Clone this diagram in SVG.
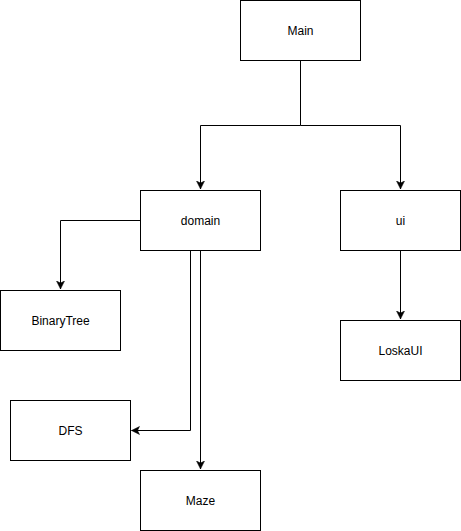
<svg xmlns="http://www.w3.org/2000/svg" width="461" height="531" viewBox="0 0 461 531">
<style>
.box{fill:#fff;stroke:#000;stroke-width:1}
.lbl{font-family:"Liberation Sans",Arial,sans-serif;font-size:12px;fill:#000;text-anchor:middle;dominant-baseline:central}
.edge{fill:none;stroke:#000;stroke-width:1}
</style>
<defs>
<marker id="arr" markerWidth="10" markerHeight="10" refX="8" refY="4" orient="auto" markerUnits="userSpaceOnUse" viewBox="0 0 10 8">
<path d="M0,0 L8,4 L0,8 L2,4 Z" fill="#000" stroke="#000" stroke-width="0.5"/>
</marker>
</defs>
<rect width="461" height="531" fill="#fff"/>
<g id="connectors">
<path class="edge" d="M300.5,60.5 V125.5 H200.5 V189" marker-end="url(#arr)"/>
<path class="edge" d="M300.5,125.5 H400.5 V189" marker-end="url(#arr)"/>
<path class="edge" d="M140.5,220.5 H60.5 V289" marker-end="url(#arr)"/>
<path class="edge" d="M190.5,250.5 V430.5 H131.5" marker-end="url(#arr)"/>
<path class="edge" d="M200.5,250.5 V469" marker-end="url(#arr)"/>
<path class="edge" d="M400.5,250.5 V319" marker-end="url(#arr)"/>
</g>
<g id="Main"><rect class="box" x="240.5" y="0.5" width="120" height="60"/><text class="lbl" x="300.5" y="31">Main</text></g>
<g id="domain"><rect class="box" x="140.5" y="190.5" width="120" height="60"/><text class="lbl" x="200.5" y="221">domain</text></g>
<g id="ui"><rect class="box" x="340.5" y="190.5" width="120" height="60"/><text class="lbl" x="400.5" y="221">ui</text></g>
<g id="BinaryTree"><rect class="box" x="0.5" y="290.5" width="120" height="60"/><text class="lbl" x="60.5" y="321">BinaryTree</text></g>
<g id="LoskaUI"><rect class="box" x="340.5" y="320.5" width="120" height="60"/><text class="lbl" x="400.5" y="351">LoskaUI</text></g>
<g id="DFS"><rect class="box" x="10.5" y="400.5" width="120" height="60"/><text class="lbl" x="70.5" y="431">DFS</text></g>
<g id="Maze"><rect class="box" x="140.5" y="470.5" width="120" height="60"/><text class="lbl" x="200.5" y="501">Maze</text></g>
</svg>
